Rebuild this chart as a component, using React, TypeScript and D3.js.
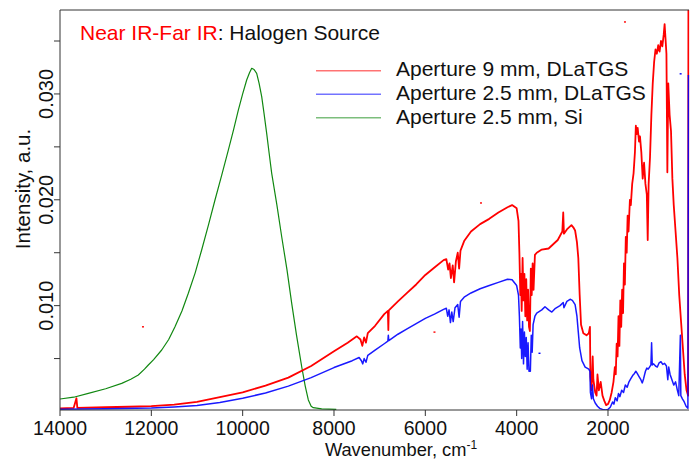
import React from "react";
import * as d3 from "d3";

// wavenumber (cm-1), intensity (a.u.)
const redSeries: [number, number][] = [
  [14000, 0.0003], [13700, 0.00035], [13640, 0.00125], [13620, 0.00035], [13000, 0.0004],
  [12500, 0.00045], [12000, 0.0005], [11500, 0.00065], [11000, 0.0009], [10500, 0.00135],
  [10000, 0.0018], [9500, 0.00245], [9000, 0.0032], [8500, 0.0043], [8000, 0.0057],
  [7700, 0.0065], [7500, 0.0071], [7420, 0.0068], [7380, 0.0062], [7340, 0.007],
  [7300, 0.0065], [7260, 0.0074], [7100, 0.0081], [6900, 0.0092], [6820, 0.0095],
  [6810, 0.0077], [6800, 0.00955], [6600, 0.0104], [6400, 0.0112], [6200, 0.012],
  [6000, 0.0129], [5800, 0.0136], [5600, 0.0143], [5540, 0.0144], [5500, 0.0134],
  [5470, 0.014], [5440, 0.0126], [5400, 0.0138], [5370, 0.0122], [5330, 0.0142],
  [5290, 0.015], [5260, 0.0135], [5230, 0.0152], [5150, 0.0161], [5000, 0.017],
  [4800, 0.0177], [4600, 0.0182], [4400, 0.0188], [4200, 0.0193], [4100, 0.0195],
  [4000, 0.0192], [3960, 0.018], [3940, 0.015], [3920, 0.011], [3905, 0.013],
  [3890, 0.0095], [3870, 0.0145], [3850, 0.0105], [3830, 0.013], [3810, 0.009],
  [3790, 0.0125], [3770, 0.0086], [3750, 0.0115], [3730, 0.008], [3710, 0.0076],
  [3690, 0.0135], [3670, 0.011], [3650, 0.014], [3630, 0.0115], [3600, 0.0148],
  [3560, 0.015], [3450, 0.0153], [3300, 0.0154], [3200, 0.0158], [3100, 0.0162],
  [3000, 0.017], [2980, 0.0188], [2965, 0.0168], [2900, 0.0172], [2800, 0.0176],
  [2760, 0.0174], [2720, 0.0171], [2680, 0.016], [2650, 0.0145], [2620, 0.011],
  [2590, 0.0082], [2540, 0.0074], [2470, 0.0072], [2420, 0.0074], [2395, 0.008],
  [2385, 0.0033], [2360, 0.002], [2335, 0.0052], [2320, 0.003], [2280, 0.0018],
  [2250, 0.0015], [2230, 0.0035], [2200, 0.002], [2160, 0.0028], [2120, 0.0015],
  [2080, 0.001], [2040, 0.0006], [2000, 0.0007], [1960, 0.0011], [1920, 0.0018],
  [1880, 0.0028], [1850, 0.0042], [1830, 0.0035], [1810, 0.0064], [1790, 0.0052],
  [1770, 0.009], [1750, 0.0062], [1730, 0.0105], [1710, 0.008], [1690, 0.0115],
  [1670, 0.0093], [1650, 0.014], [1630, 0.012], [1610, 0.0165], [1590, 0.015],
  [1570, 0.0185], [1550, 0.017], [1520, 0.02], [1500, 0.0195], [1470, 0.0215],
  [1440, 0.0225], [1410, 0.0245], [1390, 0.027], [1370, 0.0262], [1350, 0.0268],
  [1320, 0.0255], [1300, 0.026], [1270, 0.0245], [1240, 0.022], [1210, 0.0235],
  [1180, 0.0215], [1150, 0.0205], [1130, 0.0162], [1110, 0.0215], [1080, 0.024],
  [1050, 0.028], [1020, 0.031], [990, 0.033], [960, 0.0342], [930, 0.0338],
  [900, 0.0346], [870, 0.034], [840, 0.035], [810, 0.0345], [780, 0.0356],
  [760, 0.0366], [740, 0.0352], [720, 0.0338], [700, 0.0226], [680, 0.031],
  [650, 0.028], [620, 0.0265], [590, 0.022], [560, 0.0195], [520, 0.017],
  [480, 0.0145], [440, 0.011], [400, 0.0085], [360, 0.006], [320, 0.0035],
  [280, 0.002], [245, 0.0015], [238, 0.045],
];

const blueSeries: [number, number][] = [
  [14000, 0.00022], [13000, 0.00025], [12000, 0.00032], [11500, 0.00042], [11000, 0.00056],
  [10500, 0.00085], [10000, 0.00125], [9500, 0.00175], [9000, 0.0024], [8500, 0.0032],
  [8000, 0.00415], [7600, 0.0048], [7450, 0.0051], [7400, 0.0048], [7370, 0.0045],
  [7340, 0.005], [7300, 0.00465], [7260, 0.0053], [7100, 0.0058], [6900, 0.0064],
  [6820, 0.00665], [6810, 0.0072], [6800, 0.0067], [6600, 0.0073], [6400, 0.0078],
  [6200, 0.0083], [6000, 0.0088], [5800, 0.0092], [5600, 0.00965], [5540, 0.00975],
  [5510, 0.009], [5480, 0.0096], [5450, 0.0084], [5420, 0.0094], [5390, 0.0085],
  [5350, 0.0098], [5290, 0.0101], [5260, 0.0089], [5230, 0.0104], [5150, 0.0108],
  [5000, 0.0112], [4800, 0.0116], [4600, 0.0119], [4400, 0.0122], [4200, 0.0125],
  [4100, 0.01245], [4000, 0.0119], [3960, 0.011], [3940, 0.009], [3920, 0.006],
  [3905, 0.0078], [3890, 0.005], [3870, 0.0085], [3850, 0.0045], [3830, 0.0075],
  [3810, 0.0052], [3790, 0.007], [3770, 0.004], [3750, 0.0065], [3730, 0.0038],
  [3700, 0.0038], [3680, 0.0072], [3660, 0.0056], [3640, 0.0082], [3600, 0.009],
  [3560, 0.0093], [3450, 0.0096], [3380, 0.0099], [3300, 0.0096], [3230, 0.0094],
  [3150, 0.00975], [3050, 0.01], [2980, 0.0103], [2965, 0.0098], [2900, 0.0104],
  [2830, 0.0106], [2780, 0.0105], [2720, 0.0101], [2680, 0.009], [2650, 0.0075],
  [2620, 0.006], [2570, 0.0048], [2500, 0.0042], [2420, 0.004], [2395, 0.0038],
  [2385, 0.0018], [2360, 0.0012], [2340, 0.0025], [2320, 0.0012], [2280, 0.0008],
  [2230, 0.0005], [2180, 0.0003], [2120, 0.0002], [2050, 0.00015], [2000, 0.0002],
  [1950, 0.0004], [1900, 0.0009], [1870, 0.0007], [1840, 0.0013], [1800, 0.001],
  [1770, 0.0017], [1740, 0.0014], [1700, 0.002], [1660, 0.0018], [1620, 0.0025],
  [1580, 0.0023], [1540, 0.0028], [1500, 0.0031], [1460, 0.0034], [1420, 0.0036],
  [1390, 0.0038], [1360, 0.0036], [1320, 0.0033], [1280, 0.003], [1250, 0.0027],
  [1220, 0.0031], [1180, 0.0038], [1150, 0.0041], [1120, 0.004], [1090, 0.0042],
  [1060, 0.0044], [1045, 0.0065], [1030, 0.0044], [1000, 0.0045], [960, 0.0043],
  [920, 0.0042], [880, 0.0046], [840, 0.0047], [800, 0.00445], [760, 0.00455],
  [720, 0.0043], [690, 0.003], [670, 0.0042], [640, 0.0035], [600, 0.003],
  [560, 0.0025], [520, 0.0028], [480, 0.002], [450, 0.0015], [415, 0.0072],
  [405, 0.0015], [370, 0.0012], [330, 0.0009], [290, 0.0005], [250, 0.0003],
  [238, 0.0318],
];

const greenSeries: [number, number][] = [
  [14000, 0.00118], [13700, 0.00135], [13380, 0.00172], [13000, 0.00215], [12649, 0.00266],
  [12450, 0.00305], [12285, 0.00345], [12150, 0.004], [12066, 0.00439], [11950, 0.0049],
  [11773, 0.00581], [11620, 0.0068], [11482, 0.00801], [11330, 0.0095], [11190, 0.01117],
  [11040, 0.0131], [10898, 0.01526], [10750, 0.0176], [10606, 0.01998], [10460, 0.0223],
  [10314, 0.0247], [10200, 0.0266], [10095, 0.02848], [10000, 0.03], [9912, 0.03132],
  [9850, 0.032], [9802, 0.03242], [9750, 0.0323], [9693, 0.03195], [9640, 0.031],
  [9583, 0.02974], [9530, 0.0281], [9474, 0.02628], [9420, 0.0244], [9364, 0.0225],
  [9250, 0.0195], [9145, 0.01651], [9030, 0.0134], [8926, 0.01022], [8820, 0.0072],
  [8707, 0.00423], [8630, 0.0024], [8562, 0.00109], [8500, 0.0005], [8453, 0.00036],
  [8270, 0.00024], [7950, 0.0002],
];

const redOutliers: [number, number][] = [[12183, 0.008], [1628, 0.0368], [4781, 0.0197], [5800, 0.0075]];
const blueOutliers: [number, number][] = [[409, 0.0319], [3500, 0.0055]];

const xTicks = [14000, 12000, 10000, 8000, 6000, 4000, 2000];
const yTicks = [0.005, 0.01, 0.015, 0.02, 0.025, 0.03, 0.035];
const yLabelled = [0.01, 0.02, 0.03];

const legendItems = [
  { label: "Aperture 9 mm, DLaTGS", color: "#ff0000" },
  { label: "Aperture 2.5 mm, DLaTGS", color: "#0000ff" },
  { label: "Aperture 2.5 mm, Si", color: "#118811" },
];

const W = 695, H = 460;
const L = 60, R = 689, T = 10, B = 410;
const FONT = "'Liberation Sans', Arial, sans-serif";

export default function App() {
  const x = d3.scaleLinear().domain([14000, 226]).range([L, R]);
  const y = d3.scaleLinear().domain([0.000142, 0.03793]).range([B, T]);
  const line = d3.line<[number, number]>().x((d) => x(d[0])).y((d) => y(d[1]));
  const fmt = d3.format(".3f");

  return (
    <svg width={W} height={H} style={{ position: "absolute", left: 0, top: 0, background: "#fff" }} fontFamily={FONT}>
      <defs>
        <clipPath id="plotclip">
          <rect x={L} y={T} width={R - L + 0.5} height={B - T} />
        </clipPath>
      </defs>
      <rect x={0} y={0} width={W} height={H} fill="#fff" />
      <g clipPath="url(#plotclip)" fill="none" strokeLinejoin="round">
        <path d={line(greenSeries) || ""} stroke="#118811" strokeWidth={1.2} />
        <path d={line(redSeries) || ""} stroke="#ff0000" strokeWidth={1.8} />
        <path d={line(blueSeries) || ""} stroke="#0000ff" strokeWidth={1.5} strokeOpacity={0.9} />
        {redOutliers.map((d, i) => (
          <rect key={"ro" + i} x={x(d[0]) - 1} y={y(d[1]) - 0.7} width={2} height={1.4} fill="#ff0000" stroke="none" />
        ))}
        {blueOutliers.map((d, i) => (
          <rect key={"bo" + i} x={x(d[0]) - 1} y={y(d[1]) - 0.7} width={2} height={1.4} fill="#0000ff" stroke="none" />
        ))}
      </g>
      {/* frame */}
      <path d={`M${L},${T}H${R}M${L},${T}V${B}H${R}`} stroke="#333" strokeWidth={1} fill="none" />
      {/* x ticks */}
      {xTicks.map((t) => (
        <g key={t}>
          <line x1={x(t)} x2={x(t)} y1={B} y2={B + 6} stroke="#333" />
          <text x={x(t)} y={435.3} fontSize={19.5} textAnchor="middle" fill="#111">{t}</text>
        </g>
      ))}
      {/* y ticks */}
      {yTicks.map((t) => (
        <line key={t} x1={L - 6} x2={L} y1={y(t)} y2={y(t)} stroke="#333" />
      ))}
      {yLabelled.map((t) => (
        <text key={t} transform={`translate(53,${y(t)}) rotate(-90)`} fontSize={20} textAnchor="middle" fill="#111">
          {fmt(t)}
        </text>
      ))}
      {/* axis titles */}
      <text x={401} y={456} fontSize={18.3} textAnchor="middle" fill="#111">
        Wavenumber, cm<tspan fontSize={12} dy={-7.5}>-1</tspan>
      </text>
      <text transform="translate(29.5,189) rotate(-90)" fontSize={20.5} textAnchor="middle" fill="#111">
        Intensity, a.u.
      </text>
      {/* title */}
      <text x={80} y={40} fontSize={21} fill="#111">
        <tspan fill="#ff0000">Near IR-Far IR</tspan>: Halogen Source
      </text>
      {/* legend */}
      {legendItems.map((it, i) => (
        <g key={it.label}>
          <line x1={316} x2={381} y1={70.7 + i * 23.5} y2={70.7 + i * 23.5} stroke={it.color} strokeOpacity={0.55} strokeWidth={1.6} />
          <text x={396} y={76 + i * 24} fontSize={21} fill="#111">{it.label}</text>
        </g>
      ))}
    </svg>
  );
}
